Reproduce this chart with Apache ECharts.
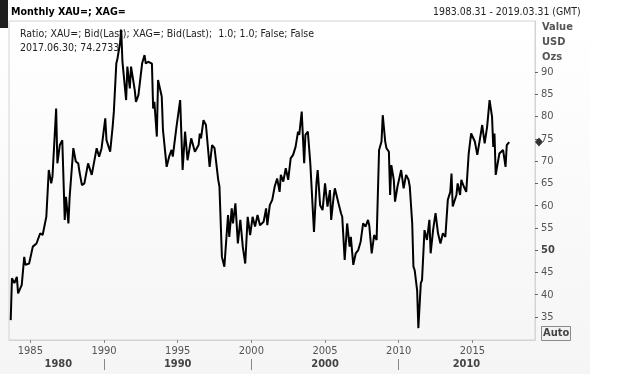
<!DOCTYPE html>
<html>
<head>
<meta charset="utf-8">
<script src="https://cdn.jsdelivr.net/npm/echarts@6/dist/echarts.min.js"></script>
<style>html,body{margin:0;padding:0;background:#fff;}#c{width:627px;height:384px;}</style>
</head>
<body>
<div id="c"></div>
<script>
const dates = ['1983-08','1983-09','1983-11','1984-01','1984-02','1984-05','1984-07','1984-08','1984-11','1985-02','1985-03','1985-05','1985-08','1985-10','1986-01','1986-03','1986-05','1986-06','1986-09','1986-10','1986-12','1987-02','1987-04','1987-05','1987-07','1987-08','1987-11','1988-01','1988-03','1988-04','1988-06','1988-08','1988-11','1989-02','1989-06','1989-08','1989-10','1990-01','1990-02','1990-05','1990-07','1990-08','1990-10','1990-11','1991-01','1991-02','1991-03','1991-06','1991-07','1991-09','1991-10','1991-11','1992-01','1992-02','1992-04','1992-05','1992-07','1992-09','1992-10','1992-12','1993-03','1993-04','1993-05','1993-07','1993-08','1993-11','1993-12','1994-03','1994-05','1994-07','1994-08','1994-11','1995-02','1995-04','1995-06','1995-08','1995-11','1996-02','1996-05','1996-06','1996-07','1996-09','1996-11','1997-02','1997-04','1997-06','1997-09','1997-10','1997-12','1998-01','1998-02','1998-05','1998-06','1998-08','1998-09','1998-11','1999-01','1999-03','1999-05','1999-07','1999-09','1999-11','2000-01','2000-03','2000-05','2000-07','2000-10','2000-12','2001-01','2001-03','2001-05','2001-07','2001-09','2001-11','2001-12','2002-02','2002-04','2002-06','2002-08','2002-10','2002-12','2003-02','2003-03','2003-05','2003-07','2003-08','2003-10','2003-12','2004-03','2004-05','2004-06','2004-08','2004-10','2004-12','2005-02','2005-04','2005-05','2005-07','2005-08','2005-11','2006-01','2006-02','2006-04','2006-06','2006-08','2006-09','2006-11','2007-01','2007-03','2007-05','2007-07','2007-09','2007-11','2007-12','2008-02','2008-04','2008-06','2008-08','2008-10','2008-11','2009-01','2009-02','2009-04','2009-05','2009-06','2009-08','2009-09','2009-11','2010-02','2010-04','2010-06','2010-08','2010-09','2010-11','2010-12','2011-01','2011-03','2011-04','2011-06','2011-07','2011-09','2011-11','2012-01','2012-02','2012-04','2012-06','2012-08','2012-10','2012-12','2013-02','2013-04','2013-06','2013-07','2013-08','2013-11','2013-12','2014-02','2014-03','2014-05','2014-07','2014-09','2014-11','2015-02','2015-04','2015-06','2015-08','2015-10','2015-12','2016-02','2016-04','2016-05','2016-06','2016-07','2016-10','2016-11','2017-01','2017-03','2017-04','2017-06'];
const ratio = [34.3,43.7,42.6,44.0,40.3,42.2,48.5,46.7,47.0,50.8,50.5,51.5,53.8,53.4,57.5,68.0,65.0,66.5,81.8,69.5,73.6,74.7,56.8,62.0,56.0,62.0,72.9,69.9,69.5,67.6,64.6,65.0,69.5,66.9,72.9,71.0,72.9,79.6,74.7,72.1,77.7,81.1,91.9,93.1,96.4,99.5,92.3,83.7,91.2,86.3,91.2,91.6,86.0,83.3,84.8,84.5,91.9,93.8,91.9,92.3,91.9,81.8,83.3,75.5,88.2,84.5,77.0,68.7,71.0,72.5,71.0,77.7,83.7,68.0,76.6,70.2,75.1,72.1,73.6,76.2,75.1,79.2,78.1,68.7,73.6,72.9,65.8,64.3,48.5,48.2,46.3,57.9,53.0,59.4,56.0,60.5,51.5,56.8,50.8,47.0,57.5,53.4,57.5,55.3,57.9,55.6,56.4,59.4,55.6,60.1,61.3,64.3,66.1,63.1,66.9,65.4,68.4,65.8,70.6,71.4,73.2,76.6,75.9,81.1,69.5,75.9,76.6,69.5,54.1,65.0,68.0,60.1,59.0,65.0,59.8,63.5,56.8,62.0,63.9,60.5,58.3,57.5,47.8,56.0,50.8,53.0,46.7,49.3,50.0,51.9,56.0,55.3,56.8,55.6,49.3,53.4,52.3,72.5,74.4,80.3,74.4,72.9,72.1,62.4,69.1,65.8,60.9,64.3,68.0,63.9,66.9,65.8,64.3,56.0,46.3,45.5,41.0,32.5,42.6,43.3,54.5,52.3,56.8,49.3,54.5,58.3,53.8,51.5,53.8,53.0,61.3,63.1,67.2,59.8,62.4,65.0,62.4,65.8,64.3,63.1,71.7,76.2,74.4,71.4,74.7,78.1,74.0,77.7,83.7,80.0,73.2,76.2,66.9,71.7,72.1,72.5,68.7,73.6,74.2733];
const yearTicks = [1985,1990,1995,2000,2005,2010,2015];
const decadeNames = ['1980','1990','2000','2010'];
const decadeLabelPos = [1986.9,1995,2005,2014.6];
const decadeBounds = [1990,2000,2010];
const valueTicks = [35,40,45,50,55,60,65,70,75,80,85,90];
const lastDate = '2017.06.30';
const rangeText = '1983.08.31 - 2019.03.31 (GMT)';

const FONT = "'DejaVu Sans Condensed','DejaVu Sans',sans-serif";
const toYear = s => { const p = s.split('-').map(Number); return p[0] + p[1] / 12; };
const lineData = dates.map((d, i) => [toYear(d), ratio[i]]);
const xMin = 1983.55, xMax = 2019.25;
const lastVal = ratio[ratio.length - 1];

const chart = echarts.init(document.getElementById('c'), null, {renderer: 'canvas'});
chart.setOption({
  animation: false,
  backgroundColor: '#ffffff',
  grid: {left: 9, right: 92, top: 21, bottom: 44, show: true, borderColor: '#d4d4d4', borderWidth: 1, backgroundColor: 'transparent'},
  graphic: [
    {type: 'rect', z: -10, shape: {x: 0, y: 21, width: 590, height: 353},
     style: {fill: new echarts.graphic.LinearGradient(0, 0, 0, 1, [{offset: 0, color: '#ffffff'}, {offset: 0.2, color: '#fdfdfd'}, {offset: 1, color: '#f5f5f5'}])}},
    {type: 'rect', shape: {x: 0, y: 0, width: 8, height: 28}, style: {fill: '#1e1e1e'}},
    {type: 'text', left: 11, top: 7, style: {text: 'Monthly XAU=; XAG=', font: "bold 10.6px " + FONT, fill: '#000'}},
    {type: 'text', left: 433, top: 7, style: {text: rangeText, font: "10.4px " + FONT, fill: '#222'}},
    {type: 'text', left: 20, top: 29, style: {text: 'Ratio; XAU=; Bid(Last); XAG=; Bid(Last);  1.0; 1.0; False; False', font: "10.5px " + FONT, fill: '#222'}},
    {type: 'text', left: 20, top: 43, style: {text: lastDate + '; ' + lastVal, font: "10.5px " + FONT, fill: '#222'}},
    {type: 'text', left: 542, top: 22, style: {text: 'Value', font: "bold 11px " + FONT, fill: '#555'}},
    {type: 'text', left: 542, top: 37, style: {text: 'USD', font: "bold 11px " + FONT, fill: '#555'}},
    {type: 'text', left: 542, top: 52, style: {text: 'Ozs', font: "bold 11px " + FONT, fill: '#555'}},
    {type: 'rect', shape: {x: 541.5, y: 326.5, width: 29, height: 14}, style: {fill: '#f2f2f2', stroke: '#8a8a8a', lineWidth: 1}},
    {type: 'text', left: 543, top: 328, style: {text: 'Auto', font: "bold 11px " + FONT, fill: '#444'}}
  ],
  xAxis: [
    {type: 'value', min: xMin, max: xMax, position: 'bottom',
     axisLine: {show: true, lineStyle: {color: '#d4d4d4', width: 1}},
     axisTick: {show: true, customValues: yearTicks, length: 3, lineStyle: {color: '#888'}},
     axisLabel: {customValues: yearTicks, color: '#555', fontSize: 11, fontFamily: FONT, margin: 6, formatter: v => String(Math.round(v))},
     splitLine: {show: false}},
    {type: 'value', min: xMin, max: xMax, position: 'bottom', offset: 19,
     axisLine: {show: false},
     axisTick: {show: true, customValues: decadeBounds, length: 11, lineStyle: {color: '#888', width: 1}},
     axisLabel: {customValues: decadeLabelPos, color: '#444', fontSize: 11, fontWeight: 'bold', fontFamily: FONT, margin: 0,
       formatter: v => { const i = decadeLabelPos.indexOf(v); return i >= 0 ? decadeNames[i] : ''; }},
     splitLine: {show: false}}
  ],
  yAxis: {type: 'value', position: 'right', min: 29.84, max: 101.45,
    axisLine: {show: true, lineStyle: {color: '#d4d4d4', width: 1}},
    axisTick: {show: true, customValues: valueTicks, length: 3, lineStyle: {color: '#666'}},
    axisLabel: {customValues: valueTicks, color: '#555', fontSize: 11, fontFamily: FONT, margin: 6,
      formatter: v => v === 50 ? '{b|50}' : String(v),
      rich: {b: {fontWeight: 'bold', color: '#444', fontSize: 11, fontFamily: FONT}}},
    splitLine: {show: false}},
  series: [
    {type: 'line', xAxisIndex: 0, data: lineData, showSymbol: false, symbol: 'none',
     lineStyle: {color: '#000', width: 2}, z: 3},
    {type: 'scatter', xAxisIndex: 0, data: [[xMax, lastVal]], symbol: 'diamond', symbolSize: [8, 9],
     symbolOffset: [4, 0], itemStyle: {color: '#000'}, clip: false, z: 4}
  ]
});
</script>
</body>
</html>
